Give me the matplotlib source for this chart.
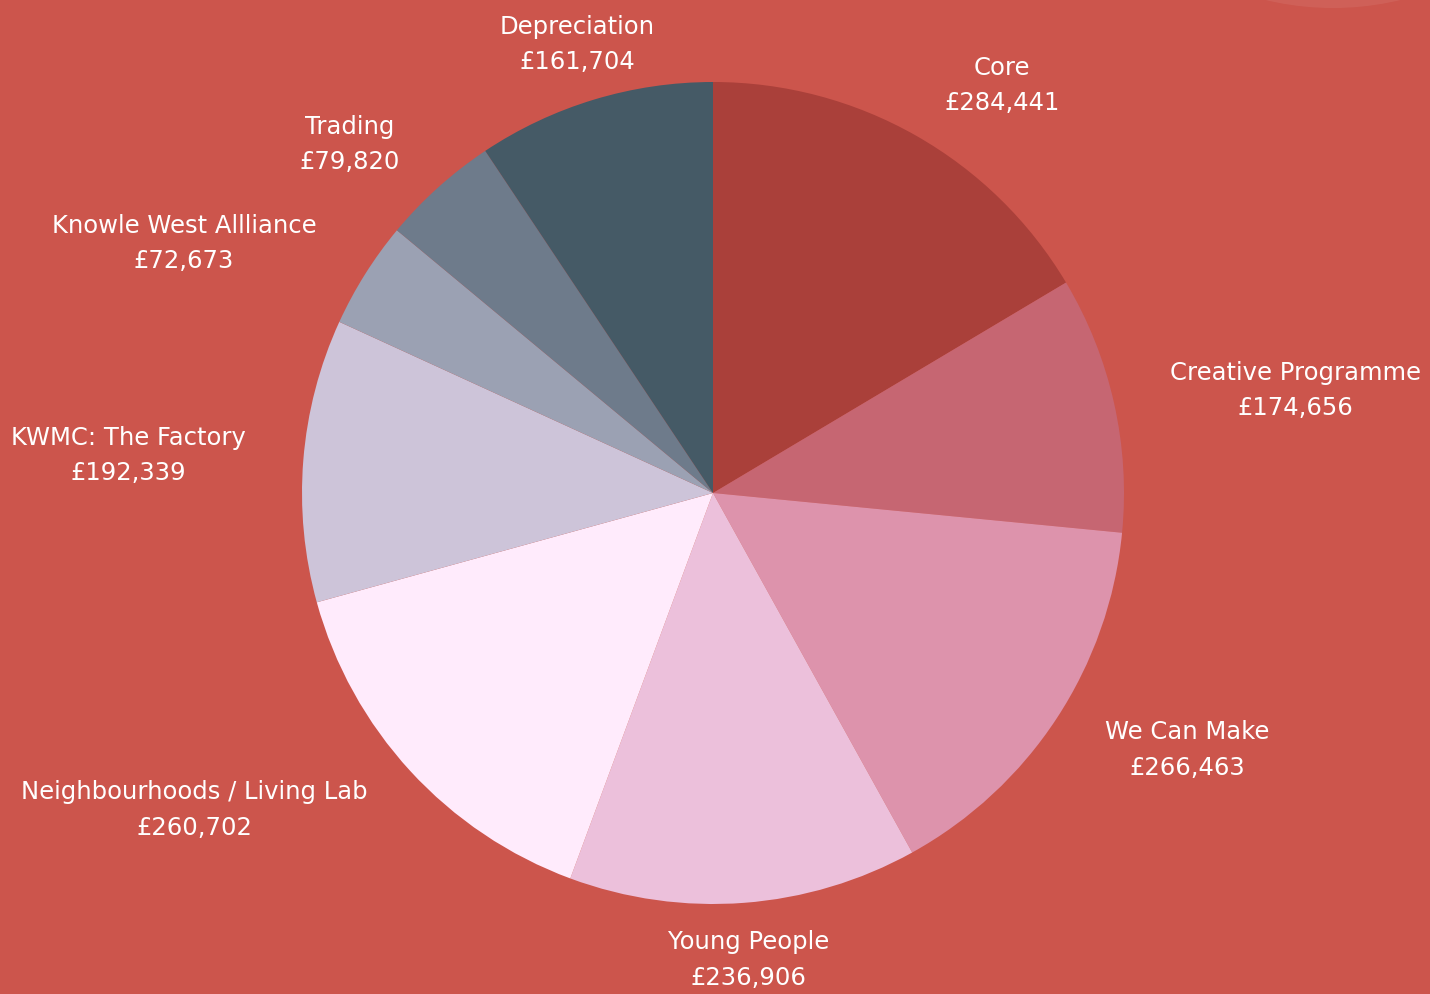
import numpy as np
import matplotlib.pyplot as plt
from matplotlib.patches import Circle

categories = ["Core", "Creative Programme", "We Can Make", "Young People",
              "Neighbourhoods / Living Lab", "KWMC: The Factory",
              "Knowle West Allliance", "Trading", "Depreciation"]
values = [284441, 174656, 266463, 236906, 260702, 192339, 72673, 79820, 161704]
colors = ["#AA403A", "#C66672", "#DD93AC", "#ECC0DB", "#FFEBFC",
          "#CDC4D9", "#9BA1B3", "#6E7B8B", "#455A66"]
bg = "#CC554C"

fig = plt.figure(figsize=(14.3, 9.94), dpi=100)
fig.patch.set_facecolor(bg)
ax = fig.add_axes([0, 0, 1, 1])

cx, cy, R = 713, 501, 411

# faint decorative circle top right
ax.add_patch(Circle((1333, 994 + 281), 289, color="white", alpha=0.07, lw=0))

wedges, _ = ax.pie(values, colors=colors, startangle=90, counterclock=False,
                   center=(cx, cy), radius=R, frame=True,
                   wedgeprops=dict(linewidth=0))
ax.set_xlim(0, 1430)
ax.set_ylim(0, 994)
ax.set_aspect("equal")
ax.axis("off")

total = sum(values)
cum = 0
for name, v in zip(categories, values):
    mid = (cum + v / 2) / total * 2 * np.pi
    cum += v
    r = R * 1.14
    x = cx + r * np.sin(mid)
    y = cy + r * np.cos(mid)
    s = np.sin(mid)
    if abs(s) < 0.35:
        ha = "center"
    elif s > 0:
        ha = "left"
    else:
        ha = "right"
    ax.text(x, y, f"{name}\n£{v:,}", ha=ha, va="center", multialignment="center",
            color="white", fontsize=17.5, family="DejaVu Sans", linespacing=1.6)

fig.savefig("out.png", dpi=100, facecolor=bg)
